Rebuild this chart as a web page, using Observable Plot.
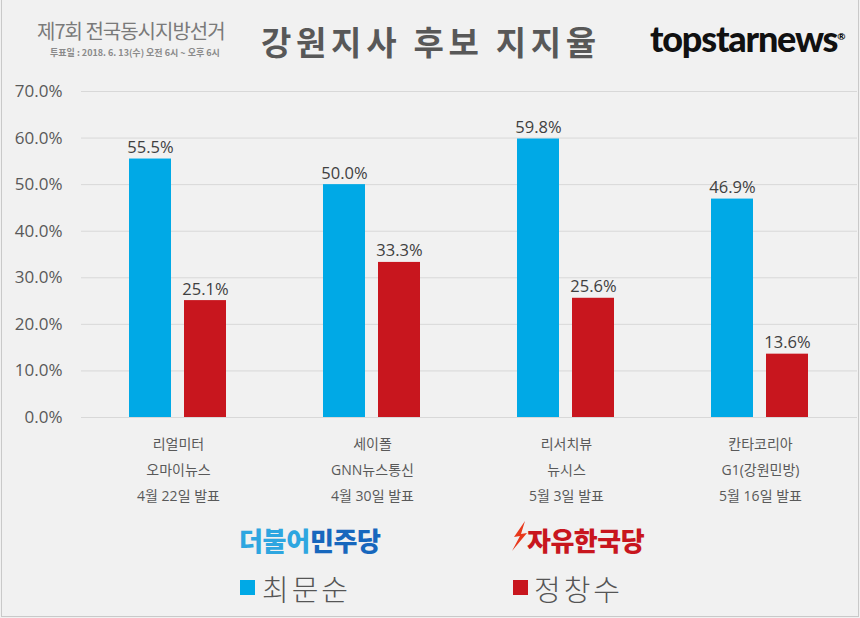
<!DOCTYPE html>
<html><head><meta charset="utf-8">
<script src="https://cdn.jsdelivr.net/npm/d3@7"></script>
<script src="https://cdn.jsdelivr.net/npm/@observablehq/plot@0.6"></script>
<style>
html,body{margin:0;padding:0;background:#f1f1f1;}
#wrap{position:relative;width:860px;height:618px;background:#f1f1f1;overflow:hidden;font-family:"Open Sans","Noto Sans CJK KR",sans-serif;}
#frame{position:absolute;left:1px;right:1px;top:-2px;bottom:1px;border:1px solid #c9c9c9;pointer-events:none;}
.abs{position:absolute;white-space:nowrap;}
#chart{position:absolute;left:0;top:70px;}
</style></head>
<body>
<div id="wrap">
  <div class="abs" style="left:37px;top:16px;font-family:'Noto Sans CJK KR';font-size:20px;color:#7a7a7a;letter-spacing:-1px;">제7회 전국동시지방선거</div>
  <div class="abs" style="left:50px;top:46px;font-family:'Noto Sans CJK KR';font-size:9px;font-weight:700;color:#8a8a8a;">투표일 : 2018. 6. 13(수) 오전 6시 ~ 오후 6시</div>
  <div class="abs" style="left:261px;top:17px;font-family:'Noto Sans CJK KR';font-size:33px;font-weight:700;color:#585858;letter-spacing:4.7px;">강원지사 후보 지지율</div>
  <div class="abs" style="left:650px;top:16px;font-family:Lato,'Liberation Sans',sans-serif;font-size:36px;font-weight:900;color:#111;letter-spacing:-1.2px;">topstarnews<span style="font-size:10px;vertical-align:top;letter-spacing:0;position:relative;top:14px;">®</span></div>
  <div id="chart"></div>
  <div class="abs" style="left:239px;top:521px;font-family:'Noto Sans CJK KR';font-size:26px;font-weight:900;letter-spacing:-0.3px;"><span style="color:#2ea6e0">더불어</span><span style="color:#1767bd">민주당</span></div>
  <svg class="abs" style="left:511px;top:521px" width="18" height="34" viewBox="0 0 18 34"><path d="M14 0 L3 16 L9 15 L1 30 L16 12 L10 13 Z" fill="#e8381b"/></svg>
  <div class="abs" style="left:527px;top:521px;font-family:'Noto Sans CJK KR';font-size:26px;font-weight:900;color:#c8161e;letter-spacing:-0.5px;">자유한국당</div>
  <div class="abs" style="left:240px;top:580px;width:15px;height:15px;background:#00a9e6;"></div>
  <div class="abs" style="left:262px;top:567px;font-family:'Noto Sans CJK KR';font-size:29px;font-weight:300;color:#555;letter-spacing:3px;">최문순</div>
  <div class="abs" style="left:513px;top:580px;width:15px;height:15px;background:#c8161e;"></div>
  <div class="abs" style="left:534px;top:567px;font-family:'Noto Sans CJK KR';font-size:29px;font-weight:300;color:#555;letter-spacing:3px;">정창수</div>
  <div id="frame"></div>
</div>
<script>
const polls = ["리얼미터", "세이폴", "리서치뷰", "칸타코리아"];
const media = ["오마이뉴스", "GNN뉴스통신", "뉴시스", "G1(강원민방)"];
const dates = ["4월 22일 발표", "4월 30일 발표", "5월 3일 발표", "5월 16일 발표"];
const candidates = ["최문순", "정창수"];
const choiValues = [55.5, 50.0, 59.8, 46.9];
const jeongValues = [25.1, 33.3, 25.6, 13.6];
const yTicks = [0, 10, 20, 30, 40, 50, 60, 70];
const colors = ["#00a9e6", "#c8161e"];

const data = polls.flatMap((p, i) => [
  {poll: p, cand: candidates[0], value: choiValues[i]},
  {poll: p, cand: candidates[1], value: jeongValues[i]}
]);

const chart = Plot.plot({
  width: 860, height: 440,
  marginLeft: 79, marginRight: 2, marginTop: 21, marginBottom: 93,
  style: {background: "transparent", fontFamily: "'Open Sans','Noto Sans CJK KR',sans-serif", color: "#595959"},
  fx: {domain: polls, padding: 0, label: null},
  x: {domain: candidates, paddingInner: 0.232, paddingOuter: 0.857, axis: null},
  y: {domain: [0, 70], axis: null},
  color: {domain: candidates, range: colors},
  marks: [
    Plot.gridY(yTicks, {stroke: "#d8d8d8", strokeOpacity: 1}),
    Plot.axisY(yTicks, {tickFormat: d => d.toFixed(1) + "%", tickSize: 0, tickPadding: 19, fontSize: 17, label: null}),
    Plot.axisFx({anchor: "bottom", tickFormat: p => { const i = polls.indexOf(p); return [p, media[i], dates[i]].join("\n"); }, tickSize: 0, tickPadding: 13, fontSize: 14, lineHeight: 1.85, label: null}),
    Plot.barY(data, {fx: "poll", x: "cand", y: "value", fill: "cand"}),
    Plot.text(data, {fx: "poll", x: "cand", y: "value", text: d => d.value.toFixed(1) + "%", dy: -6, lineAnchor: "bottom", fontSize: 16.5, fill: "#404040", letterSpacing: "0.5px"})
  ]
});
document.getElementById("chart").appendChild(chart);
</script>
</body></html>
